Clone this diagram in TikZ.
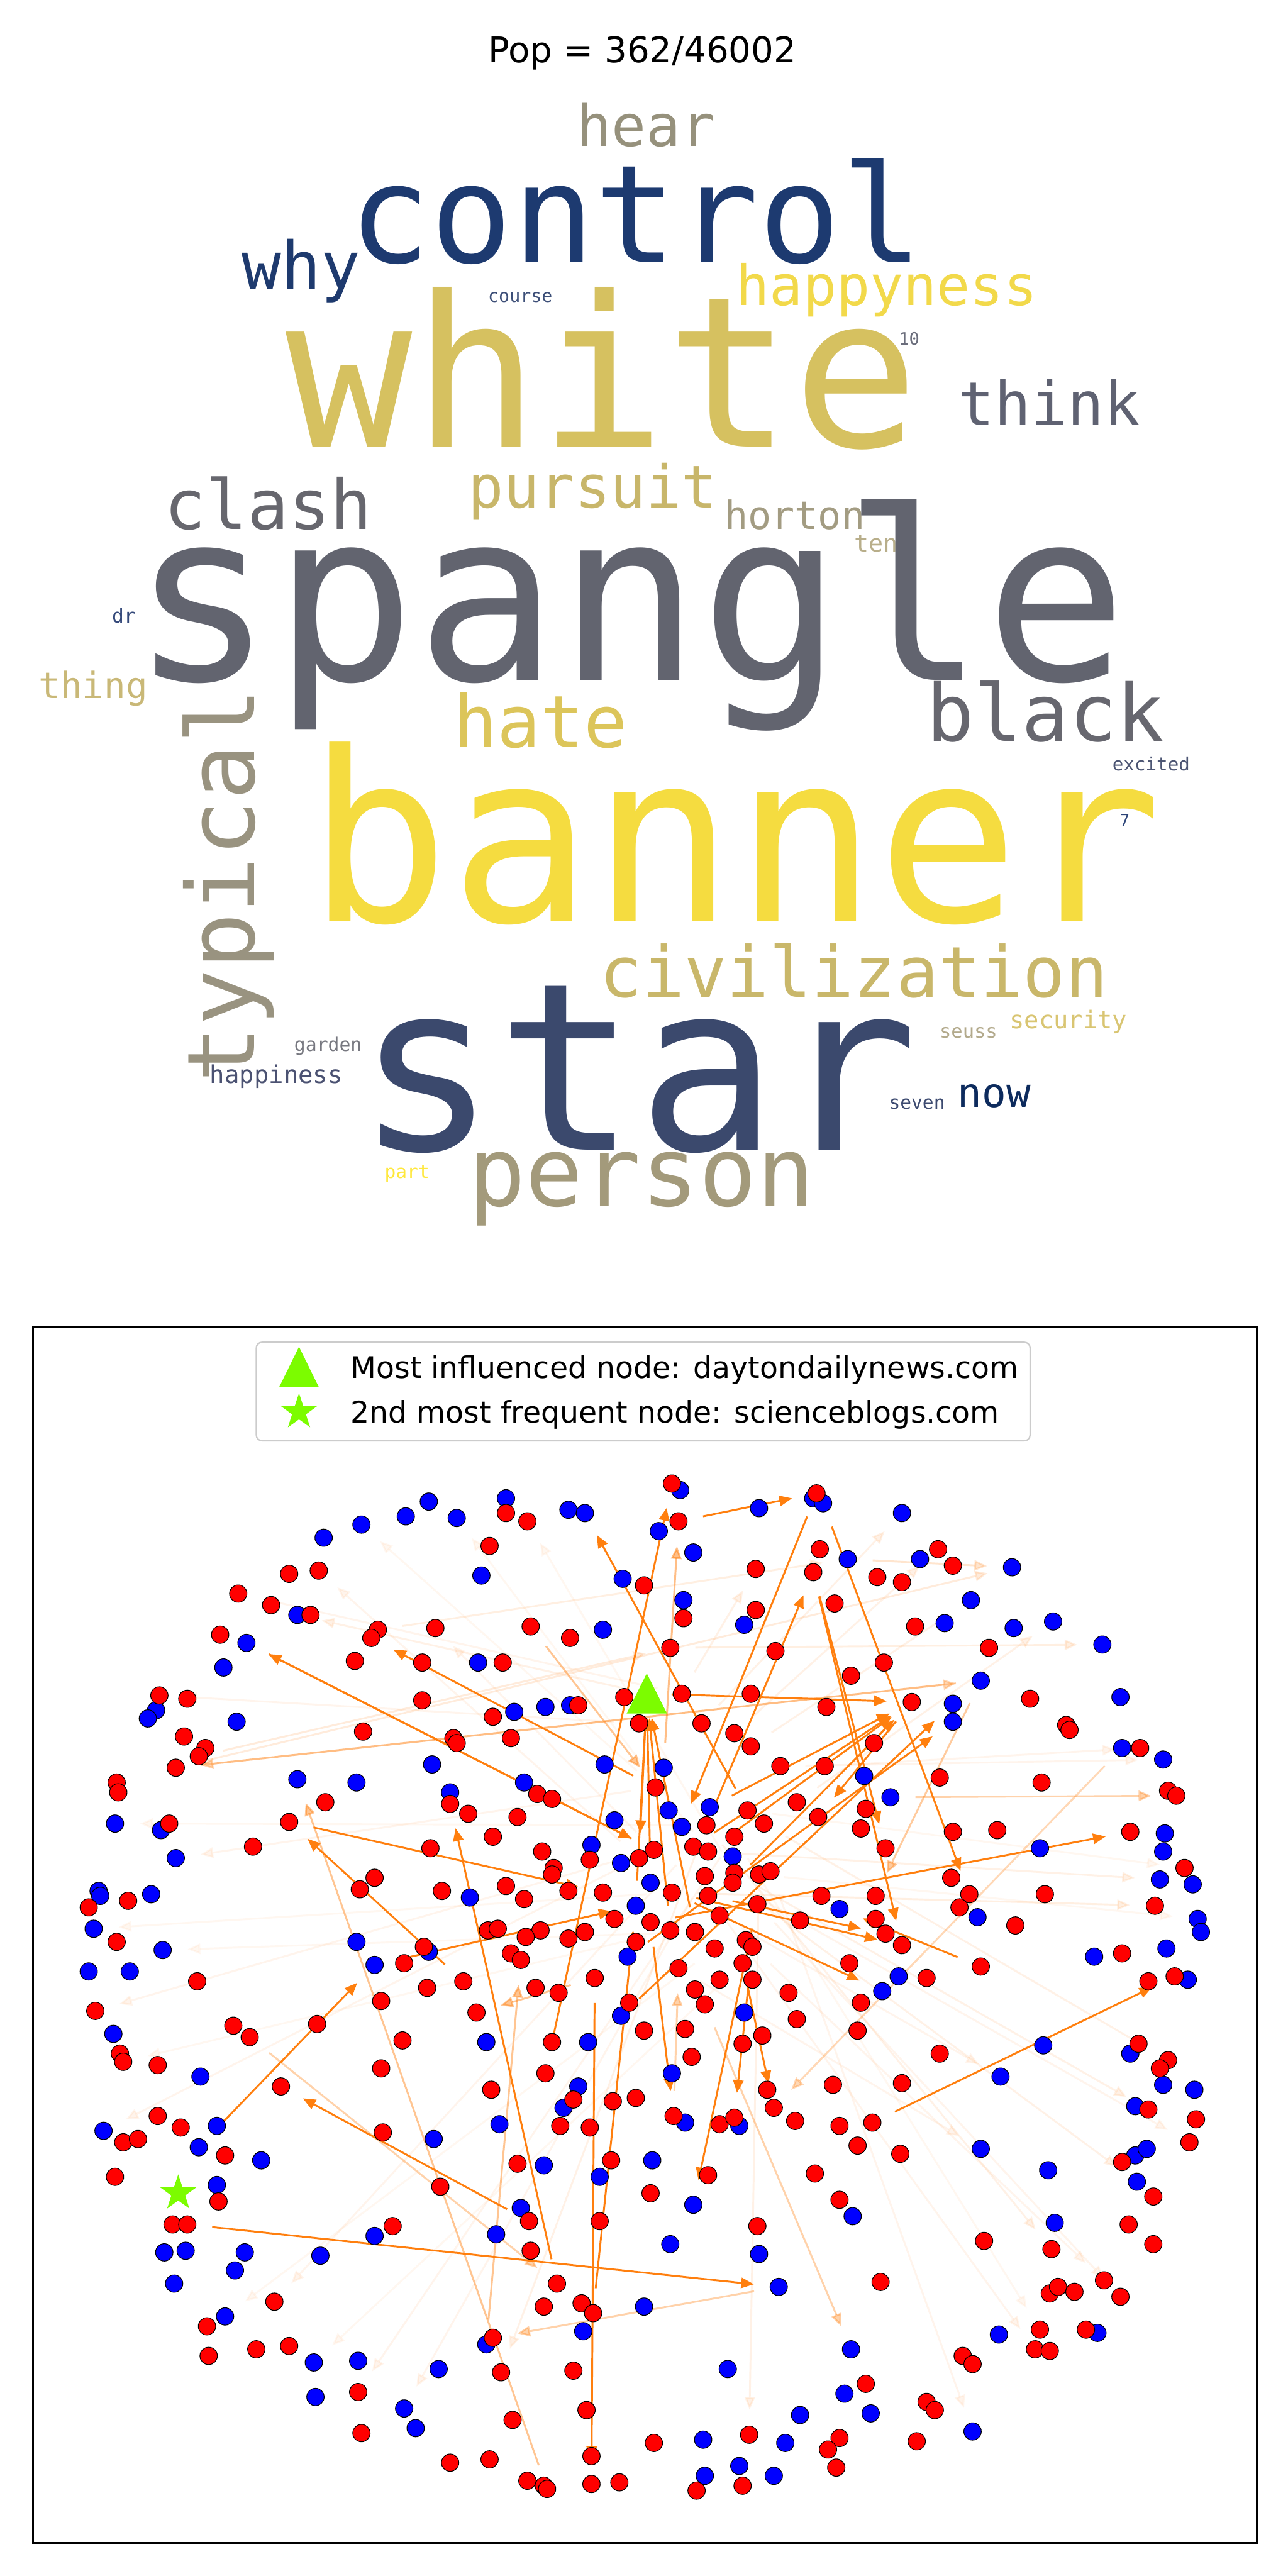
\documentclass[tikz,border=0pt]{standalone}
\usepackage{fontspec}
\setmainfont{DejaVu Sans}
\newfontfamily\cloudfont{DejaVu Sans Mono}
\usetikzlibrary{arrows.meta,shapes.geometric,calc,backgrounds}

\definecolor{hotorange}{RGB}{255,127,14}
\definecolor{lawn}{RGB}{124,252,0}
\definecolor{wcHear}{RGB}{150,145,124}
\definecolor{wcControl}{RGB}{29,58,112}
\definecolor{wcWhy}{RGB}{30,58,110}
\definecolor{wcCourse}{RGB}{61,79,120}
\definecolor{wcHappyness}{RGB}{242,217,74}
\definecolor{wcWhite}{RGB}{214,193,96}
\definecolor{wcTenNum}{RGB}{107,110,124}
\definecolor{wcThink}{RGB}{95,98,114}
\definecolor{wcClash}{RGB}{103,103,110}
\definecolor{wcPursuit}{RGB}{200,182,106}
\definecolor{wcHorton}{RGB}{163,156,130}
\definecolor{wcTen}{RGB}{184,174,138}
\definecolor{wcSpangle}{RGB}{98,100,111}
\definecolor{wcDr}{RGB}{52,73,122}
\definecolor{wcThing}{RGB}{201,184,119}
\definecolor{wcTypical}{RGB}{153,147,128}
\definecolor{wcHate}{RGB}{220,197,90}
\definecolor{wcBlack}{RGB}{103,103,111}
\definecolor{wcExcited}{RGB}{77,86,116}
\definecolor{wcBanner}{RGB}{245,220,64}
\definecolor{wcSevenNum}{RGB}{44,68,120}
\definecolor{wcCivil}{RGB}{201,183,106}
\definecolor{wcGarden}{RGB}{119,120,128}
\definecolor{wcHappiness}{RGB}{75,82,114}
\definecolor{wcStar}{RGB}{59,73,109}
\definecolor{wcSeuss}{RGB}{179,170,140}
\definecolor{wcSecurity}{RGB}{217,197,114}
\definecolor{wcSeven}{RGB}{60,74,112}
\definecolor{wcNow}{RGB}{13,43,93}
\definecolor{wcPart}{RGB}{255,232,60}
\definecolor{wcPerson}{RGB}{163,154,123}

\tikzset{
  word/.style={inner sep=0pt, anchor=base west},
  wsize/.style={font={\cloudfont\fontsize{#1}{#1}\selectfont}},
  legtext/.style={inner sep=0pt, anchor=base west, font={\fontsize{25.8pt}{26pt}\selectfont}},
  rdot/.style={circle, fill=red, draw=black, line width=0.6pt, minimum size=0.53cm, inner sep=0pt},
  bdot/.style={rdot, fill=blue},
  hub/.style={circle, minimum size=0.53cm, inner sep=0pt},
  hot/.style={draw=hotorange, line width=1.6pt, -{Triangle[length=11pt,width=9pt]}, shorten <=13.8pt, shorten >=13.8pt},
  warm/.style={hot, opacity=#1}
}

\begin{document}
\begin{tikzpicture}[x=0.05cm, y=-0.05cm]
\useasboundingbox (0,0) rectangle (784,1568);
\node[anchor=base, inner sep=0pt, font={\fontsize{30.6pt}{31pt}\selectfont}] (title) at (391,38) {Pop = 362/46002};

\node[word, wsize=49.8pt, text=wcHear] (w-hear) at (351,89) {hear};
\node[word, wsize=118.1pt, text=wcControl] (w-control) at (212,160) {control};
\node[word, wsize=56.9pt, text=wcWhy] (w-why) at (147,176) {why};
\node[word, wsize=15.4pt, text=wcCourse] (w-course) at (297,184) {course};
\node[word, wsize=48.1pt, text=wcHappyness] (w-happyness) at (448,186) {happyness};
\node[word, wsize=182.1pt, text=wcWhite] (w-white) at (174,272) {white};
\node[word, wsize=14.8pt, text=wcTenNum] (w-10) at (547,210) {10};
\node[word, wsize=52.4pt, text=wcThink] (w-think) at (583,259) {think};
\node[word, wsize=59.6pt, text=wcClash] (w-clash) at (100,322) {clash};
\node[word, wsize=51.1pt, text=wcPursuit] (w-pursuit) at (285,309) {pursuit};
\node[word, wsize=33.6pt, text=wcHorton] (w-horton) at (441,322) {horton};
\node[word, wsize=20.9pt, text=wcTen] (w-ten) at (520,336) {ten};
\node[word, wsize=204.9pt, text=wcSpangle] (w-spangle) at (79.5,414) {spangle};
\node[word, wsize=17.1pt, text=wcDr] (w-dr) at (68,379) {dr};
\node[word, wsize=31.3pt, text=wcThing] (w-thing) at (23.5,425) {thing};
\node[word, wsize=81.1pt, text=wcTypical, rotate=90] (w-typical) at (155,659) {typical};
\node[word, wsize=62.6pt, text=wcHate] (w-hate) at (276,455) {hate};
\node[word, wsize=68.3pt, text=wcBlack] (w-black) at (564,451) {black};
\node[word, wsize=15.9pt, text=wcExcited] (w-excited) at (677,469) {excited};
\node[word, wsize=204.9pt, text=wcBanner] (w-banner) at (187,561) {banner};
\node[word, wsize=14.2pt, text=wcSevenNum] (w-7) at (681.5,503) {7};
\node[word, wsize=60.9pt, text=wcCivil] (w-civilization) at (365,607) {civilization};
\node[word, wsize=16.2pt, text=wcGarden] (w-garden) at (179,640) {garden};
\node[word, wsize=21.2pt, text=wcHappiness] (w-happiness) at (127.7,659.5) {happiness};
\node[word, wsize=202pt, text=wcStar] (w-star) at (216.8,700) {star};
\node[word, wsize=16.6pt, text=wcSeuss] (w-seuss) at (571.8,632) {seuss};
\node[word, wsize=21.1pt, text=wcSecurity] (w-security) at (614.5,626) {security};
\node[word, wsize=16.1pt, text=wcSeven] (w-seven) at (541,675) {seven};
\node[word, wsize=35pt, text=wcNow] (w-now) at (582.8,674) {now};
\node[word, wsize=16.1pt, text=wcPart] (w-part) at (234,717) {part};
\node[word, wsize=83.1pt, text=wcPerson] (w-person) at (284.7,734) {person};

\draw[line width=1.6pt] (20,808) rectangle (765,1548);
\draw[draw=black!20, line width=1.2pt, fill=white, rounded corners=5pt] (156,817) rectangle (627,877);
\node[hub] (legtri) at (182,832) {};
\fill[lawn] ($(legtri)+(0,-12.2)$) -- ($(legtri)+(-12,12.2)$) -- ($(legtri)+(12,12.2)$) -- cycle;
\node[star, star points=5, star point ratio=2.6, fill=lawn, inner sep=0pt, minimum size=1.15cm] (legstar) at (182,859.5) {};
\node[legtext] (leg-1) at (213.3,839) {Most influenced node: daytondailynews.com};
\node[legtext] (leg-2) at (213.2,866) {2nd most frequent node: scienceblogs.com};

\foreach \x/\y in {261/914, 247/923, 220/928, 197/936, 278/924, 308/912, 346/919, 356/921, 293/959, 181/983, 150/1000, 136/1015, 367/992, 379/961, 291/1012, 95/1041, 90/1046, 144/1048, 313/1042, 332/1039, 347/1038, 263/1074, 368/1074, 181/1083, 217/1085, 319/1085, 274/1091, 374/1108, 70/1110, 98/1114, 107/1131, 360/1123, 378/1134, 60/1151, 61/1154, 92/1153, 286/1155, 387/1160, 57/1174, 99/1187, 261/1188, 217/1182, 228/1196, 382/1191, 54/1200, 79/1200, 378/1227, 69/1238, 296/1243, 358/1243, 122/1264,
  352/1270, 343/1283, 63/1297, 132/1294, 121/1307, 159/1315, 264/1302, 304/1293, 331/1318, 365/1325, 132/1330, 317/1344, 228/1361, 302/1360, 100/1371, 113/1370, 149/1371, 195/1373, 143/1382, 106/1390, 137/1410, 392/1404, 355/1419, 296/1427, 191/1438, 218/1437, 267/1442, 192/1459, 246/1466, 253/1478,
  414/907, 401/932, 422/945, 462/918, 495/912, 501/915, 549/921, 516/949, 560/949, 616/954, 416/974, 591/974, 453/989, 575/988, 617/991, 641/987, 671/1001, 597/1023, 682/1033, 580/1037, 580/1048, 683/1064, 708/1071, 404/1076, 526/1081, 542/1094, 407/1102, 432/1100, 415/1112, 709/1116, 446/1130, 633/1125, 708/1127, 396/1146, 706/1144, 726/1147, 511/1162, 595/1167, 729/1168, 731/1176, 666/1191, 710/1186, 547/1203, 723/1205, 537/1212, 453/1225, 635/1245, 688/1250, 409/1262, 609/1264,
  708/1269, 727/1272, 417/1292, 450/1294, 691/1282, 691/1312, 698/1308, 597/1308, 638/1321, 397/1315, 692/1328, 422/1342, 519/1349, 642/1353, 408/1366, 462/1372, 474/1392, 608/1421, 668/1420, 518/1430, 443/1442, 514/1457, 530/1469, 487/1470, 428/1485, 478/1487, 592/1480, 450/1501, 429/1507, 471/1507}
  \node[bdot] (b\x-\y) at (\x,\y) {};

\foreach \x/\y in {308/921, 321/926, 298/941, 176/958, 194/956, 145/970, 165/977, 189/983, 134/995, 230/992, 226/997, 265/991, 323/990, 347/997, 392/965, 216/1011, 257/1012, 306/1012, 97/1032, 114/1034, 257/1035, 380/1033, 352/1038, 389/1049, 112/1057, 125/1064, 121/1069, 107/1076, 221/1054, 276/1058, 278/1061, 300/1045, 311/1058, 71/1085, 72/1091, 274/1098, 327/1092, 336/1095, 198/1097, 285/1104, 315/1106, 103/1110, 176/1109, 300/1118, 154/1124, 262/1125, 359/1132, 330/1127, 337/1137, 336/1141, 389/1131, 54/1161, 78/1157, 228/1143, 219/1150, 269/1151, 308/1148, 319/1156, 346/1151, 367/1152, 374/1168, 71/1182, 297/1175, 303/1174, 329/1175, 320/1179, 346/1180, 356/1176, 387/1182, 258/1185, 246/1195, 311/1189, 317/1193, 120/1206, 260/1210, 282/1206, 326/1210, 340/1213, 362/1204, 58/1224, 232/1218, 290/1225, 383/1219, 392/1236, 142/1233, 152/1240, 193/1232, 245/1242, 336/1243, 73/1250, 75/1255, 96/1257, 232/1259, 332/1262,
  171/1270, 349/1278, 373/1279, 387/1277, 299/1272, 96/1288, 75/1304, 84/1302, 110/1295, 137/1312, 70/1325, 233/1298, 341/1294, 359/1295, 315/1317, 372/1315, 268/1331, 133/1340, 105/1354, 114/1354, 322/1352, 365/1352, 239/1355, 323/1370, 339/1390, 167/1401, 126/1416, 331/1404, 354/1402, 361/1408, 300/1423, 127/1434, 156/1430, 176/1428, 305/1444, 349/1443, 218/1456, 220/1481, 312/1473, 357/1467, 274/1499, 298/1497, 360/1495, 321/1510, 331/1513, 333/1515, 360/1512, 377/1511,
  409/903, 413/926, 497/909, 499/943, 495/957, 460/955, 571/943, 580/953, 534/960, 549/963, 416/985, 460/980, 508/976, 557/990, 408/1003, 472/1005, 602/1003, 538/1012, 518/1020, 415/1031, 457/1031, 503/1039, 555/1036, 627/1034, 649/1050, 651/1053, 427/1049, 447/1055, 457/1063, 532/1061, 694/1064, 399/1088, 475/1075, 502/1075, 572/1082, 634/1085, 711/1090, 716/1093, 455/1102, 485/1097, 498/1106, 527/1101, 430/1111, 465/1110, 524/1113, 580/1115, 607/1114, 688/1115, 447/1118, 398/1126, 422/1124, 431/1127, 539/1125, 429/1142, 447/1140, 446/1146, 462/1141, 469/1139, 579/1143, 721/1137, 409/1152, 431/1154, 500/1154, 533/1154, 590/1153, 636/1153, 461/1159, 584/1161, 703/1160, 438/1166, 533/1168, 396/1170, 408/1175, 423/1176, 487/1169, 539/1177, 618/1172, 454/1181, 458/1185, 549/1184, 435/1186, 452/1195, 413/1198, 517/1195, 597/1197, 683/1189, 458/1205, 438/1205, 564/1204, 699/1206, 715/1203, 423/1211, 429/1220, 480/1213, 524/1219, 485/1229, 417/1235, 522/1236, 452/1244, 464/1239, 421/1252, 572/1250, 693/1244, 711/1254, 706/1259,
  467/1272, 507/1269, 549/1268, 471/1283, 410/1288, 438/1293, 447/1289, 484/1291, 511/1294, 531/1292, 522/1306, 548/1311, 699/1284, 728/1290, 724/1304, 683/1316, 431/1324, 496/1323, 396/1335, 702/1337, 511/1339, 461/1355, 687/1354, 599/1364, 640/1369, 702/1366, 536/1389, 639/1396, 644/1392, 654/1395, 672/1388, 682/1398, 633/1418, 661/1418, 630/1430, 639/1431, 586/1434, 592/1439, 527/1451, 564/1462, 569/1467, 398/1487, 456/1482, 511/1484, 504/1491, 558/1486, 509/1502, 424/1516, 452/1513}
  \node[rdot] (r\x-\y) at (\x,\y) {};

\node[hub] (dayton) at (393.7,1030.8) {};
\fill[lawn] ($(dayton)+(0,-12.2)$) -- ($(dayton)+(-12.3,12.2)$) -- ($(dayton)+(12.3,12.2)$) -- cycle;
\node[star, star points=5, star point ratio=2.6, fill=lawn, inner sep=0pt, minimum size=1.15cm] (sblogs) at (108.5,1335) {};

\begin{pgfonlayer}{background}
\fill[white] (0,0) rectangle (784,1568);
\foreach \s/\t/\o in {b404-1076/r413-926/0.5, r323-990/r399-1088/0.45, r362-1204/r290-1225/0.45, b296-1427/r317-1193/0.45, r152-1240/r339-1390/0.35, r333-1515/b181-1083/0.45, b597-1023/r107-1076/0.3, r107-1076/b597-1023/0.3, b542-1094/r716-1093/0.35, b597-1023/r533-1154/0.4, b683-1064/r471-1283/0.3, r429-1220/b518-1430/0.35, b474-1392/r300-1423/0.35, r410-1288/r413-1198/0.35,
  b516-949/b616-954/0.2, r107-1076/b616-954/0.15, r230-992/b516-949/0.12, r121-1069/r408-1003/0.15, r408-1003/b671-1001/0.12, r409-1152/r703-1160/0.12, r431-1127/b706-1144/0.1, r447-1140/r699-1284/0.1, r446-1146/b692-1328/0.1, r430-1111/r640-1369/0.1, r458-1185/r672-1388/0.08, r389-1131/b63-1297/0.08, r398-1126/r58-1224/0.08, r389-1049/r97-1032/0.08, dayton/b181-983/0.1, r415-1031/r145-970/0.08, r422-1124/r167-1401/0.08, r447-1118/r218-1456/0.08, r430-1111/r305-1444/0.1, r429-1142/b246-1466/0.08, r462-1141/r456-1482/0.1, r469-1139/b592-1480/0.08, r431-1154/r630-1430/0.08, r465-1110/r711-1254/0.1, r485-1097/b641-987/0.1, r457-1063/b591-974/0.1, r447-1055/r571-943/0.1, r427-1049/b549-921/0.1, r415-1031/r460-955/0.1, r398-1126/r265-991/0.08, r389-1131/r194-956/0.08, r408-1175/r75-1255/0.06, r423-1176/b99-1187/0.06, r435-1186/b137-1410/0.06, r452-1195/b191-1438/0.06, r461-1159/r682-1398/0.08, r446-1146/r724-1304/0.08, r399-1088/b107-1131/0.08, r409-1152/b57-1174/0.06, r430-1111/b70-1110/0.06, r475-1075/b708-1071/0.08, r502-1075/r694-1064/0.08, r462-1141/b729-1168/0.06, r455-1102/r721-1137/0.06, r447-1118/r633-1418/0.06, r413-1198/b597-1308/0.08, r438-1166/b609-1264/0.08, r399-1088/b220-928/0.06, r447-1140/r321-926/0.06, r431-1127/b278-924/0.06}
  \draw[warm=\o] (\s) -- (\t);
\foreach \s/\t in {r413-926/r497-909, r332-1262/r409-903, r455-1102/b356-921, r497-909/b415-1112, b501-915/r590-1153, r495-957/r539-1125, r495-957/r549-1184, dayton/r555-1036, b150-1000/r398-1126, r398-1126/b150-1000, r399-1088/r226-997, r176-1109/r367-1152, r282-1206/r176-1109, r339-1390/r274-1098, b121-1307/b228-1196, r362-1204/r360-1512, r114-1354/b474-1392, r322-1352/r171-1270, r531-1292/r715-1203, r396-1170/r688-1115, b378-1227/b580-1037, b382-1191/b580-1048, r430-1111/r495-957, r555-1036/r498-1106, b432-1100/r555-1036, r431-1127/r555-1036, r422-1124/r555-1036, r446-1146/r555-1036, r361-1408/b387-1160, r396-1170/r410-1288, r458-1185/r447-1289, r461-1159/b422-1342, r452-1195/r471-1283, b228-1196/b387-1160, r597-1197/b511-1162, r409-1152/b537-1212, r431-1154/r539-1177, r409-1152/r549-1184, dayton/r389-1131, b387-1160/dayton, r408-1175/dayton, r423-1176/dayton, b396-1146/dayton}
  \draw[hot] (\s) -- (\t);
\end{pgfonlayer}
\end{tikzpicture}
\end{document}
